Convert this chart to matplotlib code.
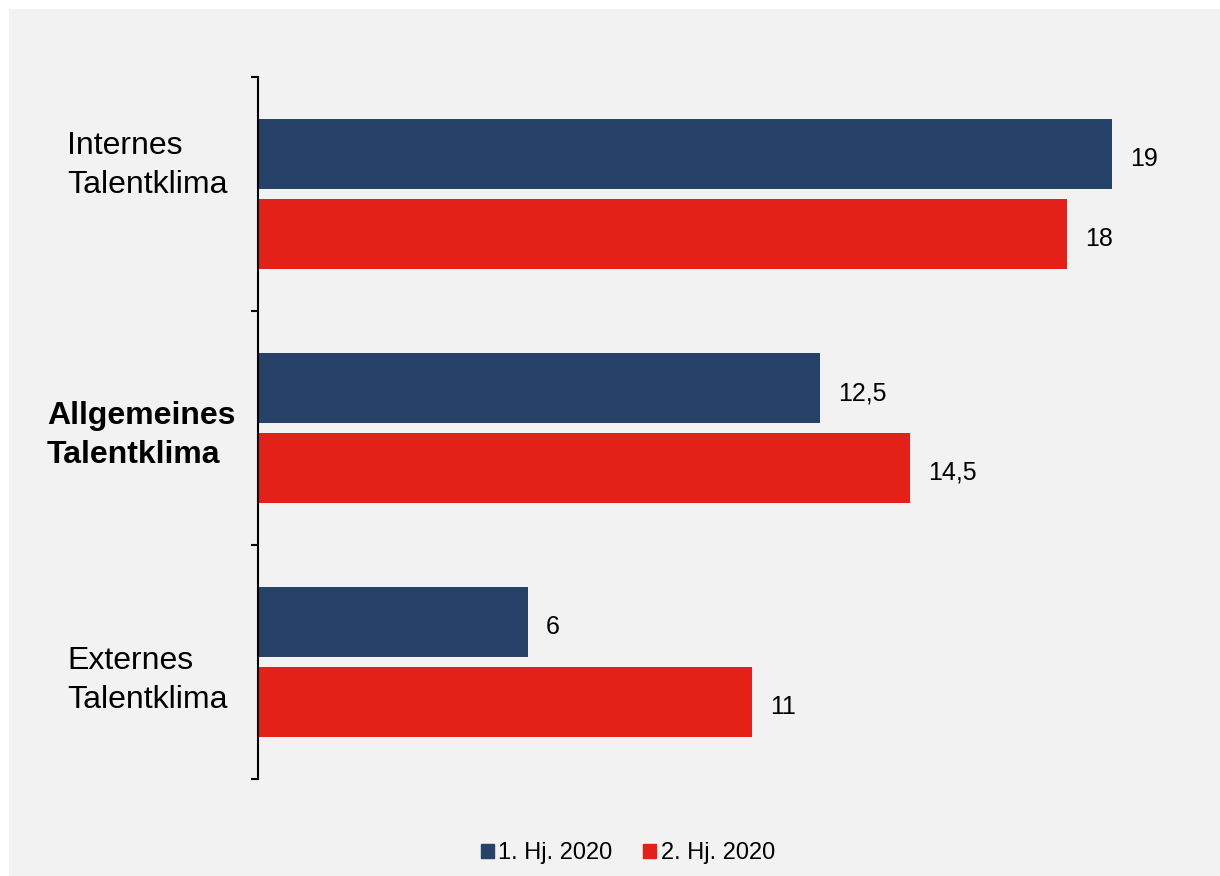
import matplotlib.pyplot as plt
from matplotlib.patches import Rectangle, Patch
import numpy as np

plt.rcParams['font.family'] = ['Liberation Sans', 'DejaVu Sans']

categories = ['Internes\nTalentklima', 'Allgemeines\nTalentklima', 'Externes\nTalentklima']
series_names = ['1. Hj. 2020', '2. Hj. 2020']
h1_values = [19, 12.5, 6]
h2_values = [18, 14.5, 11]
value_labels_h1 = ['19', '12,5', '6']
value_labels_h2 = ['18', '14,5', '11']

blue = '#264268'
red = '#e32119'
bg = '#f2f2f2'

W, H = 1220, 876
fig = plt.figure(figsize=(W / 100, H / 100), dpi=100)
fig.patch.set_facecolor('white')
# grey panel with thin white border top/left
fig.patches.append(Rectangle((9 / W, 0), 1 - 9 / W, 1 - 9 / H, transform=fig.transFigure,
                             facecolor=bg, edgecolor='none', zorder=-5))

ax = fig.add_axes([258 / W, 1 - 779 / H, 944 / W, 702 / H])
ax.set_facecolor('none')
ax.set_zorder(2)

y = np.arange(len(categories))
bar_h = 0.30
off = 0.17
ax.barh(y - off, h1_values, height=bar_h, color=blue, label=series_names[0])
ax.barh(y + off, h2_values, height=bar_h, color=red, label=series_names[1])

for i in range(len(categories)):
    ax.text(h1_values[i] + 0.4, y[i] - off + 0.01, value_labels_h1[i], va='center_baseline',
            ha='left', fontsize=18)
    ax.text(h2_values[i] + 0.4, y[i] + off + 0.01, value_labels_h2[i], va='center_baseline',
            ha='left', fontsize=18)

ax.set_xlim(0, 21)
ax.set_ylim(len(categories) - 0.5, -0.5)

# category labels, left aligned
label_x = [-0.2023, -0.2235, -0.2023]
label_base = [-0.005, 1.148, 2.195]
for i, lab in enumerate(categories):
    ax.text(label_x[i], label_base[i], lab, transform=ax.get_yaxis_transform(),
            ha='left', va='baseline', fontsize=23,
            fontweight='bold' if i == 1 else 'normal', linespacing=1.38)

ax.set_yticks(np.arange(-0.5, len(categories), 1.0))
ax.set_yticklabels([])
ax.tick_params(axis='y', length=5, width=1.5, direction='out', color='black')
ax.set_xticks([])
for s in ['top', 'right', 'bottom']:
    ax.spines[s].set_visible(False)
ax.spines['left'].set_linewidth(1.5)
ax.spines['left'].set_color('black')

handles = [Patch(color=blue, label=series_names[0]), Patch(color=red, label=series_names[1])]
fig.legend(handles=handles, loc='center', bbox_to_anchor=(628 / W, 1 - 853 / H), ncol=2,
           frameon=False, fontsize=17, handlelength=0.55, handleheight=0.55,
           handletextpad=0.2, columnspacing=1.3)

fig.savefig('out.png', dpi=100, facecolor=fig.get_facecolor())
